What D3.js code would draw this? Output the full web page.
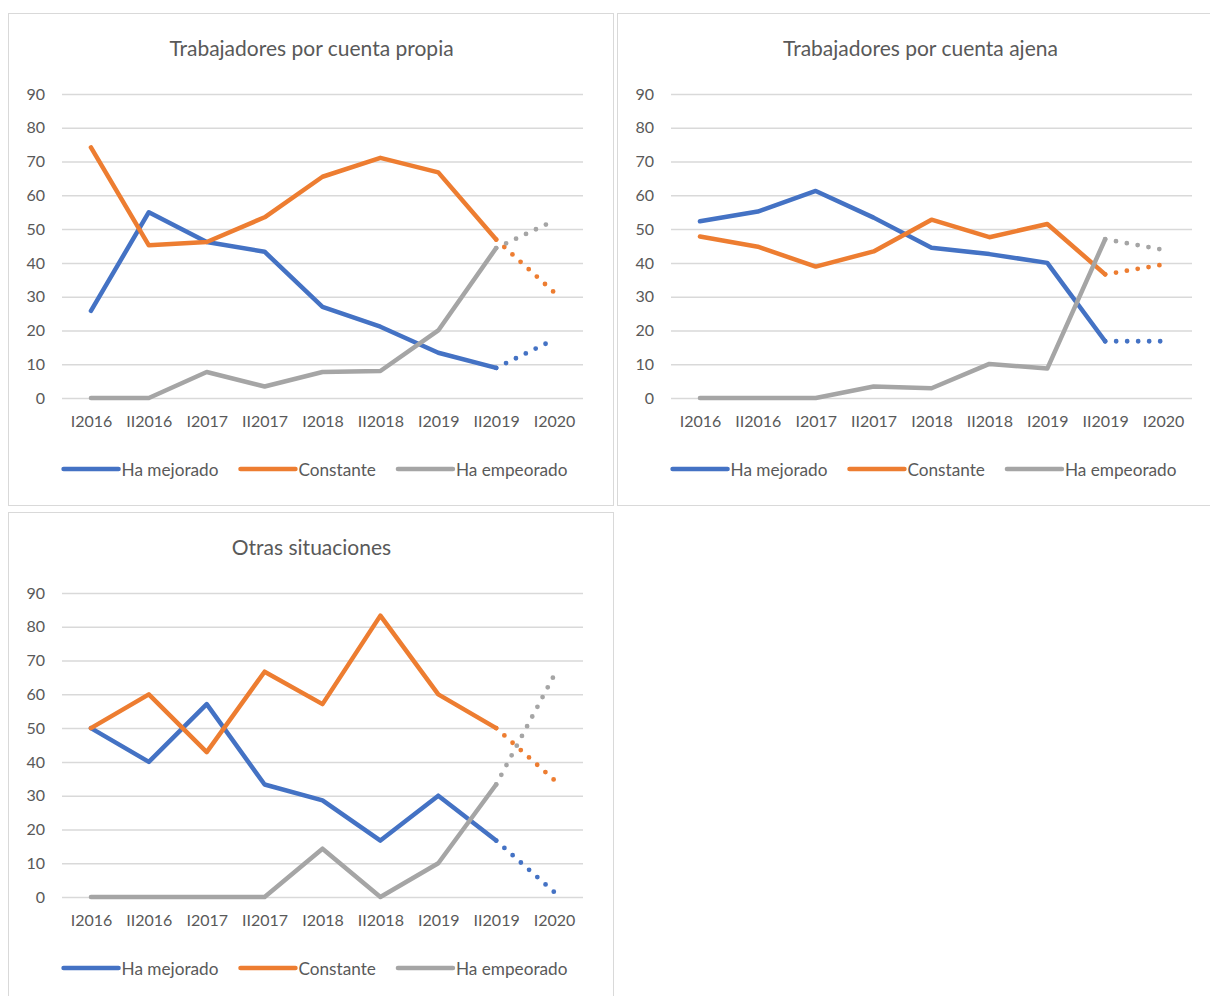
<!DOCTYPE html>
<html><head><meta charset="utf-8">
<script src="https://cdn.jsdelivr.net/npm/d3@7"></script>
<style>
html,body{margin:0;padding:0;background:#fff;}
svg{display:block;}
text{font-family:Lato,"Open Sans",sans-serif;fill:#595959;}
</style></head>
<body>
<svg id="chart" width="1210" height="996"></svg>
<script>
const categories = ["I2016","II2016","I2017","II2017","I2018","II2018","I2019","II2019","I2020"];
const seriesNames = ["Ha mejorado","Constante","Ha empeorado"];
const seriesColors = ["#4472C4","#ED7D31","#A5A5A5"];
const yTicks = [0,10,20,30,40,50,60,70,80,90];

const titles = ["Trabajadores por cuenta propia","Trabajadores por cuenta ajena","Otras situaciones"];

const propiaMejorado  = [25.8, 55.0, 46.2, 43.3, 27.0, 21.1, 13.4, 8.9, 17.3];
const propiaConstante = [74.2, 45.2, 46.2, 53.5, 65.5, 71.1, 66.8, 46.9, 31.3];
const propiaEmpeorado = [0, 0, 7.7, 3.4, 7.7, 8.0, 20.0, 44.4, 52.5];

const ajenaMejorado  = [52.3, 55.2, 61.3, 53.4, 44.5, 42.6, 40.0, 16.8, 16.8];
const ajenaConstante = [47.8, 44.8, 38.9, 43.4, 52.8, 47.6, 51.5, 36.6, 39.5];
const ajenaEmpeorado = [0, 0, 0, 3.4, 2.9, 10.1, 8.7, 47.0, 43.9];

const otrasMejorado  = [50.0, 40.0, 57.1, 33.3, 28.6, 16.7, 30.0, 16.7, 1.5];
const otrasConstante = [50.0, 60.0, 42.9, 66.7, 57.1, 83.3, 60.0, 50.0, 34.7];
const otrasEmpeorado = [0, 0, 0, 0, 14.3, 0, 10.0, 33.3, 65.6];

const panels = [
  {title: titles[0], x: 8, y: 13, data: [propiaMejorado, propiaConstante, propiaEmpeorado]},
  {title: titles[1], x: 617, y: 13, data: [ajenaMejorado, ajenaConstante, ajenaEmpeorado]},
  {title: titles[2], x: 8, y: 512, data: [otrasMejorado, otrasConstante, otrasEmpeorado]}
];

const svg = d3.select("#chart");
const PW = 605, PH = 492;

panels.forEach(p => {
  const g = svg.append("g").attr("transform", `translate(${p.x},${p.y})`);
  g.append("rect").attr("x",0.5).attr("y",0.5).attr("width",PW).attr("height",PH)
    .attr("fill","#fff").attr("stroke","#D9D9D9").attr("stroke-width",1);

  const x = d3.scalePoint().domain(categories).range([54, 575]).padding(0.5);
  const y = d3.scaleLinear().domain([0, 90]).range([385, 81]);

  g.append("text").attr("x", PW/2 + 1).attr("y", 34).attr("text-anchor","middle")
    .attr("dominant-baseline","central").style("font-size","21px").text(p.title);

  const yAxis = d3.axisLeft(y).tickValues(yTicks).tickSize(-(575-54)).tickPadding(17);
  const ya = g.append("g").attr("transform","translate(54,0)").call(yAxis);
  ya.select(".domain").remove();
  ya.selectAll(".tick line").attr("stroke","#D9D9D9").attr("stroke-width",1.5);
  ya.selectAll(".tick text").style("font-size","16px").style("font-family","Lato,sans-serif").attr("fill","#595959");

  const xAxis = d3.axisBottom(x).tickSize(0).tickPadding(18);
  const xa = g.append("g").attr("transform","translate(0,385)").call(xAxis);
  xa.select(".domain").remove();
  xa.selectAll(".tick text").style("font-size","16px").style("font-family","Lato,sans-serif").attr("fill","#595959");

  const n = categories.length;
  p.data.forEach((vals, si) => {
    const pts = vals.map((v,i)=>({v,i}));
    const solid = pts.slice(0, n-1);
    const dotted = pts.slice(n-2);
    const lg = d3.line().x(d=>x(categories[d.i])).y(d=>y(d.v));
    g.append("path").attr("d", lg(solid)).attr("fill","none")
      .attr("stroke", seriesColors[si]).attr("stroke-width",4.5)
      .attr("stroke-linejoin","round").attr("stroke-linecap","round");
    g.append("path").attr("d", lg(dotted)).attr("fill","none")
      .attr("stroke", seriesColors[si]).attr("stroke-width",4.8)
      .attr("stroke-dasharray","0 11").attr("stroke-linecap","round");
  });

  // legend
  const lgG = g.append("g").attr("transform","translate(0,456)");
  const items = [];
  seriesNames.forEach((name, si) => {
    const it = lgG.append("g");
    it.append("line").attr("x1",0).attr("x2",55).attr("y1",0).attr("y2",0)
      .attr("stroke",seriesColors[si]).attr("stroke-width",4.5).attr("stroke-linecap","round");
    const t = it.append("text").attr("x",58).attr("y",0).attr("dominant-baseline","central")
      .style("font-size","17.2px").text(name);
    const w = 58 + t.node().getComputedTextLength();
    items.push({it, w});
  });
  const gap = 22;
  const total = d3.sum(items, d=>d.w) + gap*(items.length-1);
  let cx = (PW - total)/2 + 5;
  items.forEach(d => { d.it.attr("transform", `translate(${cx},0)`); cx += d.w + gap; });
});
</script>
</body></html>
